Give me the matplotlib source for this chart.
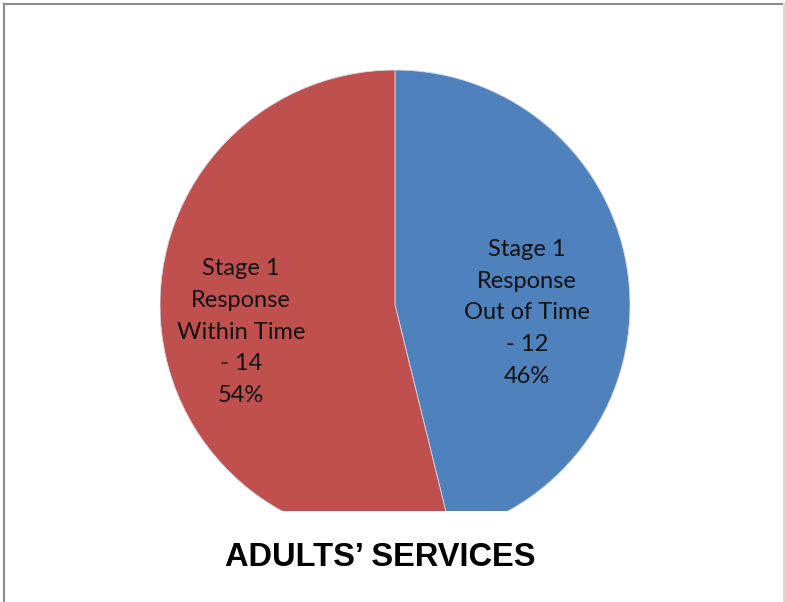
import matplotlib.pyplot as plt
from matplotlib.lines import Line2D

categories = ["Stage 1\nResponse\nOut of Time", "Stage 1\nResponse\nWithin Time"]
counts = [12, 14]
colors = ["#4f81bd", "#c0504d"]
title = "ADULTS\u2019 SERVICES"

W, H = 785, 602
fig = plt.figure(figsize=(W / 100, H / 100), dpi=100)

# pie area in pixels: left 160, right 630, top 70, clipped at bottom 511
ax = fig.add_axes([160 / W, (H - 511) / H, 470 / W, (511 - 70) / H])
wedges, _ = ax.pie(counts, colors=colors, startangle=90, counterclock=False,
                   radius=1, center=(0, 0),
                   wedgeprops=dict(linewidth=0.6, edgecolor="#d0d8e8"))
for w in wedges:
    w.set_clip_on(True)
ax.set_aspect("auto")
ax.set_xlim(-1, 1)
ax.set_ylim(1 - 441 / 235, 1)
ax.axis("off")

total = sum(counts)
label_pos = [(0.562, -0.034), (-0.655, -0.115)]
for cat, n, (x, y) in zip(categories, counts, label_pos):
    txt = "{}\n- {}\n{:.0f}%".format(cat, n, 100 * n / total)
    ax.text(x, y, txt, ha="center", va="center", fontsize=17,
            family="Lato", linespacing=1.62, color="#111111")

fig.text(380 / W, 1 - 558 / H, title, ha="center", va="center",
         fontsize=23.5, fontweight="bold", family="Liberation Sans")

# frame around the chart
fig.add_artist(Line2D([3.5 / W, 3.5 / W], [0, 1 - 3.5 / H], transform=fig.transFigure,
                      color="#8c8c8c", linewidth=1.5))
fig.add_artist(Line2D([3.5 / W, 1], [1 - 3.5 / H, 1 - 3.5 / H], transform=fig.transFigure,
                      color="#8c8c8c", linewidth=1.5))
fig.add_artist(Line2D([783.5 / W, 783.5 / W], [0, 1 - 3.5 / H], transform=fig.transFigure,
                      color="#d9d9d9", linewidth=1.5))

fig.savefig("out.png", dpi=100)
